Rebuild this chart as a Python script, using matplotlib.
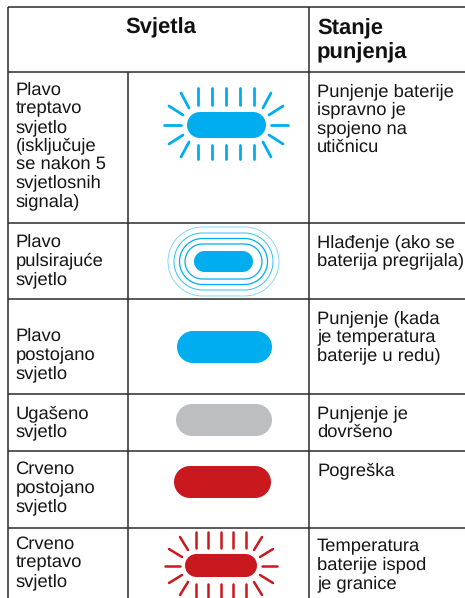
import numpy as np
import matplotlib
matplotlib.use('Agg')
import matplotlib.pyplot as plt
from matplotlib.patches import Polygon

plt.rcParams['font.family'] = ['Liberation Sans', 'DejaVu Sans']
plt.rcParams['text.hinting'] = 'no_hinting'

# table text
header_left = 'Svjetla'
header_right = ['Stanje', 'punjenja']
light_names = [
    ['Plavo', 'treptavo', 'svjetlo', '(isključuje', 'se nakon 5', 'svjetlosnih', 'signala)'],
    ['Plavo', 'pulsirajuće', 'svjetlo'],
    ['Plavo', 'postojano', 'svjetlo'],
    ['Ugašeno', 'svjetlo'],
    ['Crveno', 'postojano', 'svjetlo'],
    ['Crveno', 'treptavo', 'svjetlo'],
]
states = [
    ['Punjenje baterije', 'ispravno je', 'spojeno na', 'utičnicu'],
    ['Hlađenje (ako se', 'baterija pregrijala)'],
    ['Punjenje (kada', 'je temperatura', 'baterije u redu)'],
    ['Punjenje je', 'dovršeno'],
    ['Pogreška'],
    ['Temperatura', 'baterije ispod', 'je granice'],
]
light_kinds = ['blink', 'pulse', 'solid', 'solid', 'solid', 'blink']

BLUE = '#00aeef'
GREY = '#bcbec0'
RED = '#c9191e'
light_colors = [BLUE, BLUE, BLUE, GREY, RED, RED]

# layout in pixels of the 465x598 picture
col_x = [7.5, 127.5, 309]
row_y = [7, 72, 223, 299, 394, 451, 528]
left_base = [95, 247, 341, 418, 474, 549]
right_base = [96, 247, 323, 418, 475, 551]
line_step = 18.5
# pill box per row: x0, x1, y0, y1
pills = [
    (187, 266, 112, 138),
    (194, 253, 251, 272),
    (177, 272, 331, 363),
    (176, 272, 404, 436),
    (174, 271, 466, 498),
    (185, 257, 554, 577),
]
# ray layout per blinking row
rays = {
    0: dict(cx=226, cy=125, xs=[198, 212, 226, 240, 254], top=(88, 105), bot=(145, 159),
            side=(164, 181), diag1=(45, 32, 37, 17), diag2=(57, 19, 43, 10), lw=2.0),
    5: dict(cx=221, cy=566, xs=[196, 208, 221, 233, 246], top=(532, 548), bot=(584, 600),
            side=(165, 180), diag1=(41, 29, 33, 16), diag2=(52, 17, 39, 9), lw=1.8),
}

fig = plt.figure(figsize=(4.65, 5.98), dpi=100)
ax = fig.add_axes([0, 0, 1, 1])
ax.set_xlim(0, 465)
ax.set_ylim(598, 0)
ax.axis('off')


def pill(x0, x1, y0, y1, color, fill=True, lw=0, alpha=1.0):
    # stadium shape with true semicircle ends
    r = (y1 - y0) / 2
    cy = (y0 + y1) / 2
    t = np.linspace(-np.pi / 2, np.pi / 2, 40)
    right = np.column_stack([x1 - r + r * np.cos(t), cy + r * np.sin(t)])
    left = np.column_stack([x0 + r - r * np.cos(t[::-1]), cy + r * np.sin(t[::-1])])
    pts = np.vstack([right, left])
    ax.add_patch(Polygon(pts, closed=True, fc=color if fill else 'none',
                         ec=color if not fill else 'none', lw=lw, alpha=alpha))


def draw_rays(r, color):
    kw = dict(color=color, lw=r['lw'], solid_capstyle='round')
    for x in r['xs']:
        ax.plot([x, x], r['top'], **kw)
        ax.plot([x, x], r['bot'], **kw)
    cx, cy = r['cx'], r['cy']
    for s in (-1, 1):
        d = cx - r['side'][0], cx - r['side'][1]
        ax.plot([cx + s * d[0], cx + s * d[1]], [cy, cy], **kw)
        for v in (-1, 1):
            a = r['diag1']
            ax.plot([cx + s * a[0], cx + s * a[2]], [cy + v * a[1], cy + v * a[3]], **kw)
            b = r['diag2']
            ax.plot([cx + s * b[0], cx + s * b[2]], [cy + v * b[1], cy + v * b[3]], **kw)


# grid lines
line_kw = dict(color='#2b2b2b', lw=1.1, solid_capstyle='butt')
for y in row_y:
    ax.plot([col_x[0], 465], [y, y], **line_kw)
ax.plot([col_x[0], col_x[0]], [row_y[0], 598], **line_kw)
ax.plot([col_x[1], col_x[1]], [row_y[1], 598], **line_kw)
ax.plot([col_x[2], col_x[2]], [row_y[0], 598], **line_kw)

# header
ax.text((col_x[0] + col_x[2]) / 2 + 3, 33, header_left, ha='center', va='baseline',
        fontsize=15.8, fontweight='bold', color='#111111')
for j, s in enumerate(header_right):
    ax.text(317, 34 + j * 24, s, ha='left', va='baseline',
            fontsize=15.8, fontweight='bold', color='#111111')

# rows
for i in range(len(light_names)):
    for j, s in enumerate(light_names[i]):
        ax.text(15.5, left_base[i] + j * line_step, s, ha='left', va='baseline',
                fontsize=13.2, color='#151515')
    for j, s in enumerate(states[i]):
        ax.text(317, right_base[i] + j * line_step, s, ha='left', va='baseline',
                fontsize=13.2, color='#151515')

    x0, x1, y0, y1 = pills[i]
    pill(x0, x1, y0, y1, light_colors[i])
    if light_kinds[i] == 'blink':
        draw_rays(rays[i], light_colors[i])
    elif light_kinds[i] == 'pulse':
        # concentric rings, fading outward
        for grow, lw, alpha in [(7, 0.9, 1.0), (12.5, 0.9, 1.0), (18, 0.7, 0.8), (24, 0.6, 0.55)]:
            pill(x0 - grow - 2, x1 + grow + 2, y0 - grow, y1 + grow, light_colors[i],
                 fill=False, lw=lw, alpha=alpha)

fig.savefig('out.png', dpi=100)
